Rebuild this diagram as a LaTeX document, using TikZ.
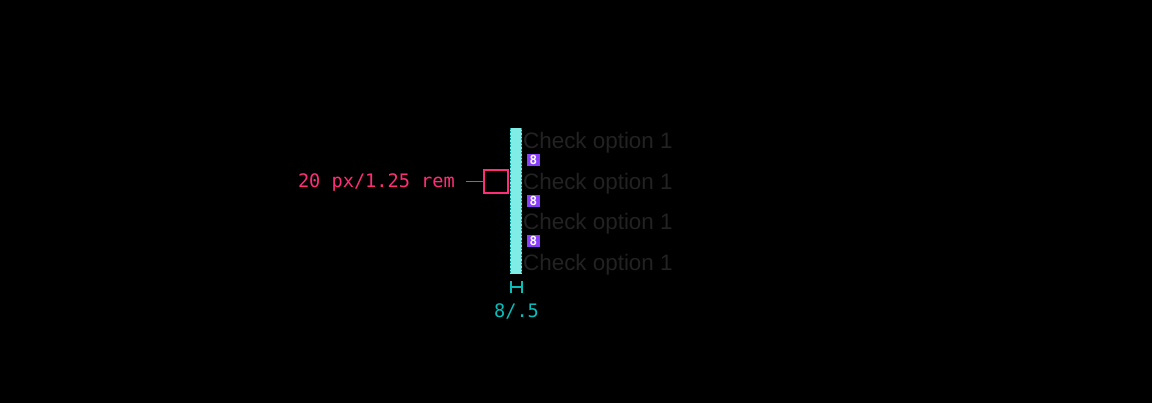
\documentclass[tikz,border=0pt]{standalone}
\usepackage{fontspec}
\setmainfont{Liberation Sans}
\setmonofont{DejaVu Sans Mono}
\usetikzlibrary{positioning}

\definecolor{bgblack}{HTML}{000000}
\definecolor{barcyan}{HTML}{7FEDE6}
\definecolor{bardash}{HTML}{009D9A}
\definecolor{specpink}{HTML}{FF2D78}
\definecolor{gappurple}{HTML}{8A3FFC}
\definecolor{optgray}{HTML}{222222}
\definecolor{specteal}{HTML}{08BDBA}

\begin{document}
\begin{tikzpicture}[x=1pt,y=-1pt,
  option/.style  = {anchor=west, inner sep=0pt, text=optgray,
                    font=\fontsize{22.4}{22.4}\selectfont},
  gap/.style     = {fill=gappurple, text=white, inner sep=0pt,
                    minimum width=13pt, minimum height=12pt,
                    font=\ttfamily\bfseries\fontsize{12.5}{12.5}\selectfont},
  box/.style     = {draw=specpink, line width=1.2pt, inner sep=0pt,
                    minimum width=24pt, minimum height=23pt},
  spec/.style    = {text=specpink, inner sep=0pt,
                    font=\ttfamily\fontsize{18.6}{18.6}\selectfont},
  lead/.style    = {draw=specpink, line width=1.2pt},
  dim/.style     = {text=specteal, inner sep=0pt,
                    font=\ttfamily\fontsize{18.6}{18.6}\selectfont},
]
  \fill[bgblack] (0,0) rectangle (1152,403);
  \useasboundingbox (0,0) rectangle (1152,403);

  % the checkbox column, 8px wide
  \fill[barcyan] (510,128) rectangle (522,274);
  \draw[bardash, dashed, dash pattern=on 2pt off 1.5pt, line width=0.8pt]
    (510.5,128) -- (510.5,274) (521.5,128) -- (521.5,274);

  \node[option] (opt1) at (523,142.5) {Check option 1};
  \node[option] (opt2) at (523,183.5) {Check option 1};
  \node[option] (opt3) at (523,223.5) {Check option 1};
  \node[option] (opt4) at (523,264.5) {Check option 1};

  \node[gap] (gap1) at (533.5,160) {8};
  \node[gap] (gap2) at (533.5,201) {8};
  \node[gap] (gap3) at (533.5,241) {8};

  % checkbox size spec
  \node[box] (cbox) at (496,181.5) {};
  \node[spec, anchor=east] (size) at (455,182.5) {20 px/1.25 rem};
  \draw[lead] ([xshift=11pt]cbox.west -| size.east) -- (cbox.west);

  % width marker under the column
  \draw[specteal, line width=1.2pt] (511,281) -- (511,293) (522,281) -- (522,293)
    (511,287) -- (522,287);
  \node[dim] (width) at (516.5,311) {8/.5};
\end{tikzpicture}
\end{document}
